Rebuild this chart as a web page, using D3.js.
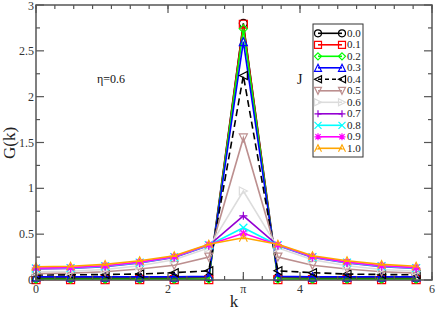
<!DOCTYPE html>
<html><head><meta charset="utf-8">
<script src="https://cdn.jsdelivr.net/npm/d3@7"></script>
<style>body{margin:0;background:#fff}svg{display:block}</style>
</head><body>
<svg id="c" width="436" height="310"></svg>
<script>
const kValues = [0, 0.5236, 1.0472, 1.5708, 2.0944, 2.618, 3.1416, 3.6652, 4.1888, 4.7124, 5.236, 5.7596];
const seriesNames = ["0.0","0.1","0.2","0.3","0.4","0.5","0.6","0.7","0.8","0.9","1.0"];
const g00 = [0.02,0.02,0.02,0.02,0.02,0.025,2.80,0.025,0.02,0.02,0.02,0.02];
const g01 = [0.005,0.005,0.005,0.005,0.005,0.005,2.79,0.005,0.005,0.005,0.005,0.005];
const g02 = [0.008,0.008,0.008,0.008,0.008,0.01,2.74,0.01,0.008,0.008,0.008,0.008];
const g03 = [0.035,0.035,0.035,0.035,0.035,0.04,2.60,0.04,0.035,0.035,0.035,0.035];
const g04 = [0.055,0.056,0.06,0.065,0.08,0.10,2.23,0.10,0.08,0.065,0.06,0.056];
const g05 = [0.07,0.075,0.09,0.12,0.16,0.25,1.55,0.25,0.16,0.12,0.09,0.075];
const g06 = [0.09,0.095,0.115,0.155,0.22,0.35,0.97,0.35,0.22,0.155,0.115,0.095];
const g07 = [0.12,0.125,0.145,0.185,0.245,0.375,0.70,0.375,0.245,0.185,0.145,0.125];
const g08 = [0.125,0.13,0.15,0.19,0.25,0.38,0.57,0.38,0.25,0.19,0.15,0.13];
const g09 = [0.13,0.135,0.155,0.195,0.255,0.385,0.51,0.385,0.255,0.195,0.155,0.135];
const g10 = [0.145,0.15,0.17,0.21,0.265,0.39,0.46,0.39,0.265,0.21,0.17,0.15];
const seriesValues = [g00,g01,g02,g03,g04,g05,g06,g07,g08,g09,g10];
const colors = ["#000000","#ff0000","#00ff00","#0000ff","#000000","#bc8f8f","#dcdcdc","#9400d3","#00ffff","#ff00ff","#ffa500"];
const markers = ["circle","square","diamond","triUp","triLeft","triDown","triRight","plus","cross","star","charA"];
const xMajorTicks = [0, 2, 4, 6];
const yTickLabels = ["0","0.5","1","1.5","2","2.5","3"];
const yTickValues = [0,0.5,1,1.5,2,2.5,3];

const svg = d3.select("#c");
const L = 36, R = 432, T = 5, B = 280;
const x = d3.scaleLinear().domain([0,6]).range([L,R]);
const y = d3.scaleLinear().domain([0,3]).range([B,T]);
const serif = "'Liberation Serif','Times New Roman','DejaVu Serif',serif";
const axisCol = "#555";

function mpath(type, r){
  switch(type){
    case "circle": return `M${-r},0a${r},${r} 0 1,0 ${2*r},0a${r},${r} 0 1,0 ${-2*r},0`;
    case "square": return `M${-r},${-r}h${2*r}v${2*r}h${-2*r}Z`;
    case "diamond": return `M0,${-r}L${r},0L0,${r}L${-r},0Z`;
    case "triUp": return `M0,${-r}L${r},${r}L${-r},${r}Z`;
    case "triLeft": return `M${-r},0L${r},${-r}L${r},${r}Z`;
    case "triDown": return `M0,${r}L${r},${-r}L${-r},${-r}Z`;
    case "triRight": return `M${r},0L${-r},${-r}L${-r},${r}Z`;
    case "plus": return `M${-r},0H${r}M0,${-r}V${r}`;
    case "cross": return `M${-r},${-r}L${r},${r}M${-r},${r}L${r},${-r}`;
    case "star": return `M${-r},0H${r}M0,${-r}V${r}M${-r*0.75},${-r*0.75}L${r*0.75},${r*0.75}M${-r*0.75},${r*0.75}L${r*0.75},${-r*0.75}`;
  }
  return "";
}
function drawMarker(g, type, cx, cy, col, r){
  if(type === "charA"){
    const s = r*2;
    g.append("path").attr("d",`M${-r},${r}L0,${-r}L${r},${r}M${-r*0.5},${r*0.2}H${r*0.5}`)
     .attr("transform",`translate(${cx},${cy})`).attr("fill","none").attr("stroke",col).attr("stroke-width",1.1);
  } else {
    g.append("path").attr("d",mpath(type,r)).attr("transform",`translate(${cx},${cy})`)
     .attr("fill","none").attr("stroke",col).attr("stroke-width",1.2);
  }
}

// data
const line = d3.line().x((d,i)=>x(kValues[i])).y(d=>y(d));
const plot = svg.append("g");
seriesValues.forEach((vals, si) => {
  const g = plot.append("g");
  g.append("path").datum(vals).attr("d", line).attr("fill","none")
    .attr("stroke", colors[si]).attr("stroke-width", 1.6)
    .attr("stroke-dasharray", si === 4 ? "7,4" : null);
  vals.forEach((v,i) => drawMarker(g, markers[si], x(kValues[i]), y(v), colors[si], 4));
});

// frame
svg.append("rect").attr("x",L).attr("y",T).attr("width",R-L).attr("height",B-T)
  .attr("fill","none").attr("stroke",axisCol).attr("stroke-width",1.5);

// ticks
const ax = svg.append("g").attr("stroke",axisCol).attr("stroke-width",1.2);
const xMinor = d3.range(0, 6.0001, 2/7);
xMinor.forEach(v => {
  ax.append("line").attr("x1",x(v)).attr("x2",x(v)).attr("y1",B).attr("y2",B-4);
  ax.append("line").attr("x1",x(v)).attr("x2",x(v)).attr("y1",T).attr("y2",T+4);
});
xMajorTicks.concat([Math.PI]).forEach(v => {
  ax.append("line").attr("x1",x(v)).attr("x2",x(v)).attr("y1",B).attr("y2",B-8);
  ax.append("line").attr("x1",x(v)).attr("x2",x(v)).attr("y1",T).attr("y2",T+8);
});
d3.range(0, 3.0001, 0.25).forEach(v => {
  const len = (Math.round(v*4) % 2 === 0) ? 8 : 4;
  ax.append("line").attr("x1",L).attr("x2",L+len).attr("y1",y(v)).attr("y2",y(v));
  ax.append("line").attr("x1",R).attr("x2",R-len).attr("y1",y(v)).attr("y2",y(v));
});

// tick labels
const tl = svg.append("g").attr("font-family",serif).attr("font-size",12).attr("fill","#333");
yTickValues.forEach((v,i) => {
  tl.append("text").attr("x",L-2).attr("y",Math.max(y(v)+4, 10)).attr("text-anchor","end").text(yTickLabels[i]);
});
xMajorTicks.forEach(v => {
  tl.append("text").attr("x",x(v)).attr("y",B+13).attr("text-anchor","middle").text(String(v));
});
tl.append("text").attr("x",x(Math.PI)).attr("y",B+13).attr("text-anchor","middle").text("π");

// axis titles
svg.append("text").attr("x",x(3.0)).attr("y",307).attr("text-anchor","middle")
  .attr("font-family",serif).attr("font-size",17).attr("fill","#222").text("k");
svg.append("text").attr("transform","translate(15,143) rotate(-90)").attr("text-anchor","middle")
  .attr("font-family",serif).attr("font-size",17).attr("fill","#222").text("G(k)");

// annotations
svg.append("text").attr("x",97).attr("y",83).attr("font-family",serif).attr("font-size",12).attr("fill","#111").text("η=0.6");
svg.append("text").attr("x",297).attr("y",84).attr("font-family",serif).attr("font-size",14).attr("fill","#111").text("J");

// legend
const lg = svg.append("g");
lg.append("rect").attr("x",313).attr("y",24).attr("width",50).attr("height",133)
  .attr("fill","#fff").attr("stroke","#333").attr("stroke-width",1);
seriesNames.forEach((name, si) => {
  const cy = 33.3 + si*11.5;
  lg.append("line").attr("x1",318).attr("x2",342).attr("y1",cy).attr("y2",cy)
    .attr("stroke",colors[si]).attr("stroke-width",1.6)
    .attr("stroke-dasharray", si === 4 ? "4,3" : null);
  drawMarker(lg, markers[si], 318, cy, colors[si], 3.5);
  drawMarker(lg, markers[si], 342, cy, colors[si], 3.5);
  lg.append("text").attr("x",347).attr("y",cy+3.5).attr("font-family",serif)
    .attr("font-size",11).attr("fill","#222").text(name);
});
</script>
</body></html>
